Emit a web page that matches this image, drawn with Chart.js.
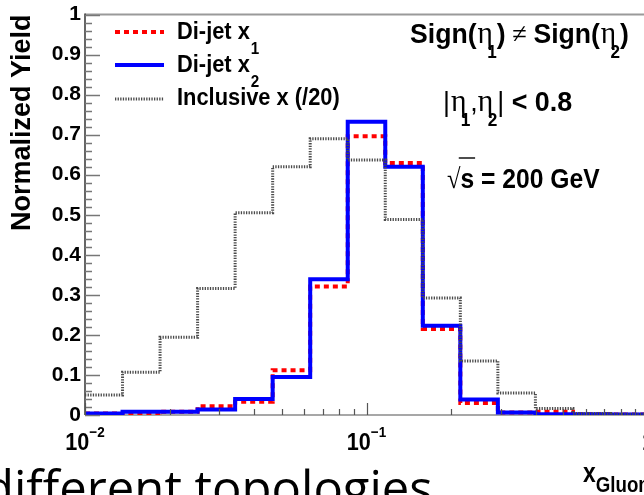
<!DOCTYPE html>
<html>
<head>
<meta charset="utf-8">
<script src="https://cdn.jsdelivr.net/npm/chart.js@4.4.1/dist/chart.umd.min.js"></script>
<style>
  html, body { margin: 0; padding: 0; background: #fff; overflow: hidden; width: 644px; height: 495px; }
  #wrap { position: absolute; left: 0; top: 0; width: 700px; height: 520px; }
  canvas { display: block; }
</style>
</head>
<body>
<div id="wrap"><canvas id="c" width="700" height="520"></canvas></div>
<script>
// 15 logarithmic bins in x between 0.01 and 1
const binEdges = [0.01, 0.013594, 0.018478, 0.025119, 0.034145, 0.046416, 0.063096, 0.085770,
                  0.11659, 0.15849, 0.21544, 0.29286, 0.39811, 0.54117, 0.73564, 1.0];

// Normalized yields per bin
const dijetX1    = [0.004, 0.000, 0.008, 0.022, 0.033, 0.112, 0.321, 0.696, 0.629, 0.215, 0.030, 0.006, 0.008, 0.002, 0.001];
const dijetX2    = [0.004, 0.008, 0.008, 0.014, 0.040, 0.095, 0.339, 0.732, 0.620, 0.223, 0.039, 0.006, 0.002, 0.002, 0.001];
const inclusiveX = [0.050, 0.107, 0.194, 0.316, 0.505, 0.620, 0.690, 0.637, 0.488, 0.292, 0.135, 0.055, 0.016, 0.004, 0.002];

const yTickLabels = ['0', '0.1', '0.2', '0.3', '0.4', '0.5', '0.6', '0.7', '0.8', '0.9', '1'];
const xTickValues = [0.01, 0.1, 1];
const xTickBases  = ['10', '10', '1'];
const xTickExps   = ['\u22122', '\u22121', ''];

const SANS = '"Liberation Sans", Arial, Helvetica, sans-serif';
const ETA = '"Liberation Serif", "DejaVu Serif", serif';

// Histogram outline: each bin contributes its left and right corner
function stepPoints(vals) {
  const pts = [];
  vals.forEach((v, i) => {
    pts.push({ x: binEdges[i], y: v });
    pts.push({ x: binEdges[i + 1], y: v });
  });
  return pts;
}

// Draw a run of text pieces (with sub/superscripts) starting at x, baseline y.
function drawRich(ctx, x, y, pieces, sx) {
  sx = sx || 1;
  ctx.save();
  ctx.translate(x, y);
  ctx.scale(sx, 1);
  ctx.textBaseline = 'alphabetic';
  ctx.textAlign = 'left';
  let cx = 0;
  for (const p of pieces) {
    ctx.font = `${p.w || 'bold'} ${p.size}px ${p.f || SANS}`;
    ctx.fillStyle = p.c || '#000';
    cx += (p.dx || 0);
    ctx.fillText(p.t, cx, p.dy || 0);
    const w = ctx.measureText(p.t).width;
    if (p.over) {
      ctx.lineWidth = 1.4;
      ctx.strokeStyle = '#000';
      ctx.beginPath();
      ctx.moveTo(cx - 2, p.over);
      ctx.lineTo(cx + w + 1, p.over);
      ctx.stroke();
    }
    cx += w + (p.after || 0);
  }
  ctx.restore();
  return cx * sx;
}

function measureRich(ctx, pieces, sx) {
  let cx = 0;
  for (const p of pieces) {
    ctx.font = `${p.w || 'bold'} ${p.size}px ${p.f || SANS}`;
    cx += (p.dx || 0) + ctx.measureText(p.t).width + (p.after || 0);
  }
  return cx * (sx || 1);
}

const rootFrame = {
  id: 'rootFrame',
  beforeDatasetsDraw(chart) {
    const { ctx, chartArea: a } = chart;
    ctx.save();
    // top frame line
    ctx.strokeStyle = '#9a9a9a';
    ctx.lineWidth = 2;
    ctx.beginPath(); ctx.moveTo(a.left, a.top); ctx.lineTo(a.right, a.top); ctx.stroke();
    // bottom axis
    ctx.strokeStyle = '#8a8a8a';
    ctx.lineWidth = 1.5;
    ctx.beginPath(); ctx.moveTo(a.left, a.bottom); ctx.lineTo(a.right, a.bottom); ctx.stroke();
    // left axis
    ctx.strokeStyle = '#333';
    ctx.lineWidth = 1.5;
    ctx.beginPath(); ctx.moveTo(a.left, a.top - 1); ctx.lineTo(a.left, a.bottom); ctx.stroke();
    ctx.restore();
  },
  afterDatasetsDraw(chart) {
    const { ctx, chartArea: a } = chart;
    const xs = chart.scales.x, ys = chart.scales.y;
    ctx.save();

    // y ticks pointing into the frame, major every 0.1, minor every 0.02
    ctx.strokeStyle = '#777';
    ctx.lineWidth = 1.5;
    for (let k = 0; k <= 50; k++) {
      const py = Math.round(ys.getPixelForValue(k / 50)) + 0.5;
      const len = (k % 5 === 0) ? 15 : 7;
      ctx.beginPath(); ctx.moveTo(a.left, py); ctx.lineTo(a.left + len, py); ctx.stroke();
    }
    // x ticks on the log axis
    ctx.strokeStyle = '#555';
    ctx.lineWidth = 1.2;
    for (const dec of [0.01, 0.1]) {
      for (let m = 1; m <= 9; m++) {
        const px = Math.round(xs.getPixelForValue(dec * m)) + 0.5;
        const len = m === 1 ? 12 : 6;
        ctx.beginPath(); ctx.moveTo(px, a.bottom); ctx.lineTo(px, a.bottom - len); ctx.stroke();
      }
    }
    {
      const px = Math.round(xs.getPixelForValue(1)) + 0.5;
      ctx.beginPath(); ctx.moveTo(px, a.bottom); ctx.lineTo(px, a.bottom - 12); ctx.stroke();
    }

    // x tick labels as powers of ten
    const sxl = 0.9;
    xTickValues.forEach((v, i) => {
      const pieces = [{ t: xTickBases[i], size: 24 }];
      if (xTickExps[i]) pieces.push({ t: xTickExps[i], size: 15, dy: -13 });
      const w = measureRich(ctx, pieces, sxl);
      drawRich(ctx, xs.getPixelForValue(v) - w / 2, a.bottom + 35, pieces, sxl);
    });

    // x axis title
    drawRich(ctx, 583, 482, [
      { t: 'x', size: 27 },
      { t: 'Gluon', size: 22, dy: 10 }
    ], 0.85);

    // legend
    const ds = chart.data.datasets;
    const rows = [
      { d: ds[2], y: 32, base: 39, text: 'Di-jet x', sub: '1' },
      { d: ds[1], y: 65, base: 72, text: 'Di-jet x', sub: '2' },
      { d: ds[0], y: 99, base: 105, text: 'Inclusive x (/20)', sub: '' }
    ];
    for (const r of rows) {
      ctx.save();
      ctx.strokeStyle = r.d.borderColor;
      ctx.lineWidth = r.d.borderWidth;
      ctx.setLineDash(r.d.borderDash || []);
      ctx.lineCap = 'butt';
      ctx.beginPath(); ctx.moveTo(115, r.y); ctx.lineTo(164, r.y); ctx.stroke();
      ctx.restore();
      const pieces = [{ t: r.text, size: 23 }];
      if (r.sub) pieces.push({ t: r.sub, size: 16, dy: 15, dx: 1 });
      drawRich(ctx, 177, r.base, pieces, 0.95);
    }

    // kinematic annotations
    drawRich(ctx, 410, 43, [
      { t: 'Sign(', size: 28 },
      { t: '\u03b7', size: 31, w: 'normal', f: ETA, dx: 1 },
      { t: '1', size: 18, dy: 15, dx: -6 },
      { t: ')', size: 28 },
      { t: ' \u2260 ', size: 28, w: 'normal', f: ETA },
      { t: 'Sign(', size: 28 },
      { t: '\u03b7', size: 31, w: 'normal', f: ETA, dx: 1 },
      { t: '2', size: 18, dy: 15, dx: -6 },
      { t: ')', size: 28 }
    ], 0.95);

    drawRich(ctx, 443, 111, [
      { t: '|', size: 28, w: 'normal' },
      { t: '\u03b7', size: 31, w: 'normal', f: ETA, dx: 1 },
      { t: '1', size: 18, dy: 15, dx: -6 },
      { t: ',', size: 28, w: 'normal' },
      { t: '\u03b7', size: 31, w: 'normal', f: ETA },
      { t: '2', size: 18, dy: 15, dx: -6 },
      { t: '|', size: 28, w: 'normal' },
      { t: ' < 0.8', size: 28 }
    ], 0.96);

    drawRich(ctx, 447, 188, [
      { t: '\u221a', size: 28, w: 'normal', f: ETA },
      { t: 's', size: 28, over: -30 },
      { t: ' = 200 GeV', size: 28 }
    ], 0.88);

    // slide caption beneath the plot
    ctx.font = `normal 49px "Open Sans", "Noto Sans", sans-serif`;
    ctx.fillStyle = '#000';
    ctx.textAlign = 'left';
    ctx.textBaseline = 'alphabetic';
    ctx.fillText('different topologies', -16, 506);

    ctx.restore();
  }
};

const ctx = document.getElementById('c').getContext('2d');
new Chart(ctx, {
  type: 'line',
  data: {
    datasets: [
      { label: 'Inclusive x (/20)', data: stepPoints(inclusiveX), borderColor: '#4a4a4a', borderWidth: 3, borderDash: [1.3, 1.3], order: 0 },
      { label: 'Di-jet x2', data: stepPoints(dijetX2), borderColor: '#0000ff', borderWidth: 4, order: 1 },
      { label: 'Di-jet x1', data: stepPoints(dijetX1), borderColor: '#ff0000', borderWidth: 4, borderDash: [5, 4], order: 2 }
    ]
  },
  options: {
    responsive: false,
    animation: false,
    events: [],
    elements: {
      point: { radius: 0 },
      line: { tension: 0, borderCapStyle: 'butt', borderJoinStyle: 'miter', fill: false }
    },
    layout: { padding: { left: 0, top: 12, right: 52, bottom: 105 } },
    plugins: { legend: { display: false }, tooltip: { enabled: false } },
    scales: {
      x: {
        type: 'logarithmic', min: 0.01, max: 1,
        ticks: { display: false },
        grid: { display: false },
        border: { display: false },
        afterFit(s) { s.height = 0; }
      },
      y: {
        min: 0, max: 1,
        ticks: {
          stepSize: 0.1, padding: 4, color: '#000',
          font: { family: SANS, weight: 'bold', size: 21, lineHeight: 1 },
          callback: (v, i) => yTickLabels[i]
        },
        grid: { display: false, drawTicks: false },
        border: { display: false },
        title: {
          display: true, text: 'Normalized Yield', align: 'end', color: '#000',
          font: { family: SANS, weight: 'bold', size: 27 },
          padding: { top: 6, bottom: 0 }
        },
        afterFit(s) { s.width = 85; }
      }
    }
  },
  plugins: [rootFrame]
});
</script>
</body>
</html>
